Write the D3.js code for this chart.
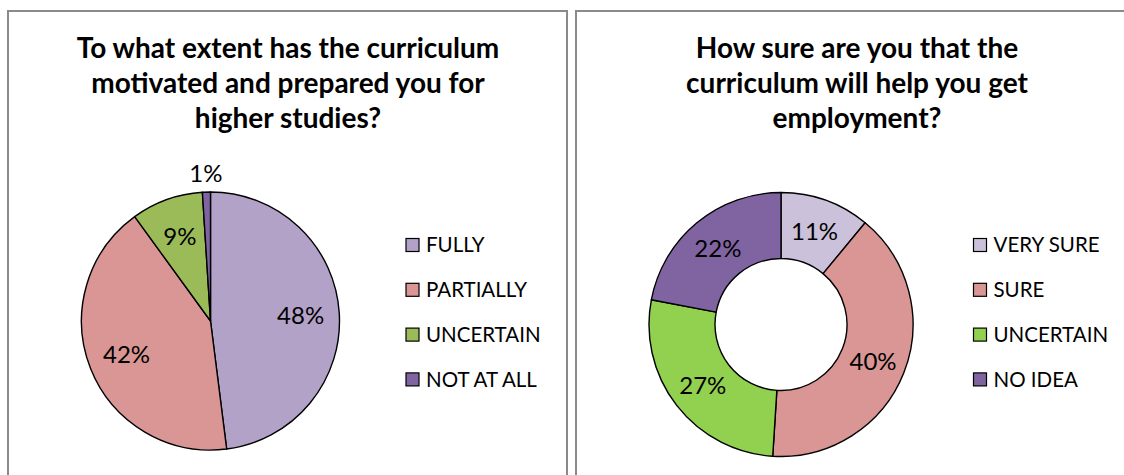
<!DOCTYPE html>
<html>
<head>
<meta charset="utf-8">
<script src="https://cdn.jsdelivr.net/npm/d3@7"></script>
<style>
  html, body { margin: 0; padding: 0; background: #fff; }
  svg { display: block; font-family: Lato, "Noto Sans", sans-serif; }
</style>
</head>
<body>
<svg id="chart" width="1124" height="475"></svg>
<script>
// Survey answers, first question (pie)
const studiesTitle = ["To what extent has the curriculum", "motivated and prepared you for", "higher studies?"];
const studiesCategories = ["FULLY", "PARTIALLY", "UNCERTAIN", "NOT AT ALL"];
const studiesValues = [48, 42, 9, 1];
const studiesColors = ["#B3A2C7", "#D99694", "#9BBB59", "#8064A2"];

// Survey answers, second question (doughnut)
const jobTitle = ["How sure are you that the", "curriculum will help you get", "employment?"];
const jobCategories = ["VERY SURE", "SURE", "UNCERTAIN", "NO IDEA"];
const jobValues = [11, 40, 27, 22];
const jobColors = ["#CCC1DA", "#D99694", "#92D050", "#8064A2"];

const svg = d3.select("#chart");

// Panel frames
const panels = [
  { x: 8, y: 11, w: 559, h: 480 },
  { x: 576, y: 11, w: 562, h: 480 }
];
svg.selectAll("rect.frame").data(panels).join("rect")
  .attr("class", "frame")
  .attr("x", d => d.x).attr("y", d => d.y)
  .attr("width", d => d.w).attr("height", d => d.h)
  .attr("fill", "#fff")
  .attr("stroke", "#8a8a8a")
  .attr("stroke-width", 2);

function drawTitle(lines, cx) {
  svg.append("text")
    .attr("text-anchor", "middle")
    .attr("font-weight", "bold")
    .attr("font-size", 28)
    .attr("fill", "#000")
    .selectAll("tspan").data(lines).join("tspan")
    .attr("x", cx)
    .attr("y", (d, i) => 58 + i * 35)
    .text(d => d);
}

function drawLegend(categories, colors, x, y0) {
  const step = 44.8;
  const g = svg.append("g");
  const rows = g.selectAll("g").data(categories).join("g")
    .attr("transform", (d, i) => `translate(${x},${y0 + i * step})`);
  rows.append("rect")
    .attr("x", 0).attr("y", -6.5)
    .attr("width", 13).attr("height", 13)
    .attr("fill", (d, i) => colors[i])
    .attr("stroke", "#000")
    .attr("stroke-width", 1.2);
  rows.append("text")
    .attr("x", 20).attr("y", 0)
    .attr("dy", "0.36em")
    .attr("font-size", 20.5)
    .attr("fill", "#000")
    .text(d => d);
}

function drawChart(values, colors, opts) {
  const pie = d3.pie().sort(null).value(d => d);
  const arcs = pie(values);
  const arc = d3.arc().innerRadius(opts.inner).outerRadius(opts.outer);
  const g = svg.append("g").attr("transform", `translate(${opts.cx},${opts.cy})`);

  g.selectAll("path").data(arcs).join("path")
    .attr("d", arc)
    .attr("fill", (d, i) => colors[i])
    .attr("stroke", "#000")
    .attr("stroke-width", 1.4)
    .attr("stroke-linejoin", "round");

  const total = d3.sum(values);
  g.selectAll("text").data(arcs).join("text")
    .attr("transform", d => {
      const share = d.value / total;
      const r = share < 0.03 ? opts.outer + 19 : opts.labelR;
      const a = (d.startAngle + d.endAngle) / 2;
      return `translate(${r * Math.sin(a)},${-r * Math.cos(a)})`;
    })
    .attr("text-anchor", "middle")
    .attr("dy", "0.36em")
    .attr("font-size", 24)
    .attr("fill", "#000")
    .text(d => d.value + "%");
}

drawTitle(studiesTitle, 288);
drawChart(studiesValues, studiesColors, { cx: 210.5, cy: 321, inner: 0, outer: 129, labelR: 0.7 * 129 });
drawLegend(studiesCategories, studiesColors, 406, 245);

drawTitle(jobTitle, 857);
drawChart(jobValues, jobColors, { cx: 781, cy: 324.5, inner: 66, outer: 132, labelR: 99 });
drawLegend(jobCategories, jobColors, 973.5, 245);
</script>
</body>
</html>
